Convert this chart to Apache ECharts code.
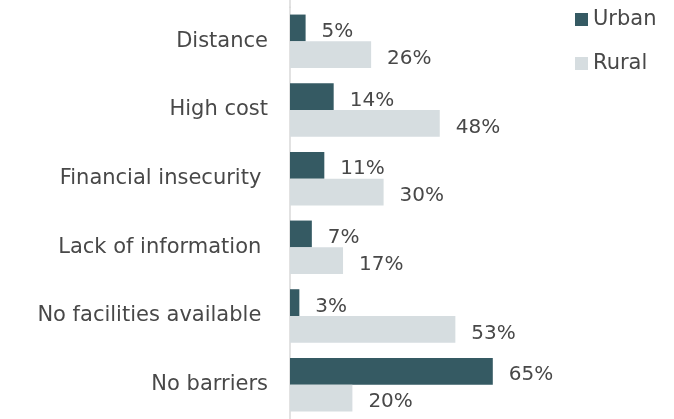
<!DOCTYPE html>
<html>
<head>
<meta charset="utf-8">
<script src="https://cdn.jsdelivr.net/npm/echarts@6/dist/echarts.min.js"></script>
<style>
  html, body { margin: 0; padding: 0; background: #fff; }
  #chart { width: 674px; height: 419px; }
</style>
</head>
<body>
<div id="chart"></div>
<script>
// Barriers to access, share of respondents by area
const categories = ['Distance', 'High cost', 'Financial insecurity ', 'Lack of information ', 'No facilities available ', 'No barriers'];
const urbanValues = [5, 14, 11, 7, 3, 65];
const ruralValues = [26, 48, 30, 17, 53, 20];
const seriesNames = ['Urban', 'Rural'];

const FONT = '"DejaVu Sans", sans-serif';
const TEXT = '#484848';
const AXIS_COLOR = '#d9d9d9';

const labelCfg = {
  show: true,
  position: 'right',
  distance: 16,
  offset: [0, 4],
  formatter: p => p.value + '%',
  fontFamily: FONT,
  fontSize: 20,
  color: TEXT
};

const chart = echarts.init(document.getElementById('chart'));
chart.setOption({
  animation: false,
  legend: {
    orient: 'vertical',
    left: 570,
    top: 4,
    itemWidth: 13,
    itemHeight: 13,
    itemGap: 23,
    icon: 'rect',
    textStyle: { fontFamily: FONT, fontSize: 21, color: TEXT },
    data: seriesNames
  },
  grid: { left: 290, right: 72, top: 7, height: 414, containLabel: false },
  xAxis: {
    type: 'value',
    min: 0,
    max: 100,
    show: false
  },
  yAxis: {
    type: 'category',
    data: categories,
    inverse: true,
    axisLine: { show: true, lineStyle: { color: AXIS_COLOR, width: 1.5 } },
    axisTick: { show: false },
    axisLabel: { margin: 22, fontFamily: FONT, fontSize: 21, color: TEXT }
  },
  series: [
    {
      name: seriesNames[0],
      type: 'bar',
      data: urbanValues,
      barGap: '0%',
      barCategoryGap: '22%',
      itemStyle: { color: '#355a63' },
      label: labelCfg
    },
    {
      name: seriesNames[1],
      type: 'bar',
      data: ruralValues,
      itemStyle: { color: '#d6dde0' },
      label: labelCfg
    }
  ]
});

// Run the baseline all the way up to the top edge of the canvas
const baseX = chart.convertToPixel({ xAxisIndex: 0 }, 0);
chart.setOption({
  graphic: [{
    type: 'line',
    silent: true,
    z: 1,
    shape: { x1: baseX, y1: 0, x2: baseX, y2: 8 },
    style: { stroke: AXIS_COLOR, lineWidth: 1.5 }
  }]
});
</script>
</body>
</html>
